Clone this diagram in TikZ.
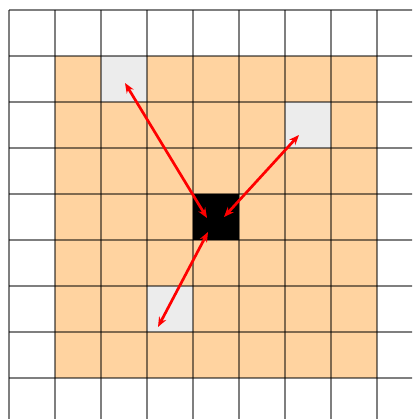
\documentclass[tikz,border=0pt]{standalone}
\usetikzlibrary{arrows.meta}
\definecolor{peach}{RGB}{255,211,160}
\definecolor{lgray}{RGB}{236,236,236}
\begin{document}
\begin{tikzpicture}[x=1pt,y=-1pt,
  gridline/.style={draw=black,draw opacity=0.5,line width=1.4pt},
  dist/.style={draw=red,line width=2.7pt,{Stealth[length=10pt,width=8pt]}-{Stealth[length=10pt,width=8pt]}},
  cell/.style={minimum size=46pt,inner sep=0pt,outer sep=0pt,draw=none}]
\useasboundingbox (0,0) rectangle (412,419);
\fill[white] (0,0) rectangle (412,419);
\begin{scope}
\clip (0,0) rectangle (412,419);
\fill[peach] (55,56) rectangle (377,378);
\node[cell,fill=lgray] (g1) at (124,79) {};
\node[cell,fill=lgray] (g2) at (308,125) {};
\node[cell,fill=lgray] (g3) at (170,309) {};
\node[cell,fill=black] (c) at (216,217) {};
\foreach \i in {0,...,9} {
  \draw[gridline] (9+46*\i,10) -- (9+46*\i,430);
  \draw[gridline] (9,10+46*\i) -- (430,10+46*\i);
}
\end{scope}
\coordinate (a1) at (125,83);
\coordinate (b1) at (207,218);
\coordinate (a2) at (299,135);
\coordinate (b2) at (224,217);
\coordinate (a3) at (158,327);
\coordinate (b3) at (208,232);
\draw[dist] (a1) -- (b1);
\draw[dist] (a2) -- (b2);
\draw[dist] (a3) -- (b3);
\end{tikzpicture}
\end{document}
